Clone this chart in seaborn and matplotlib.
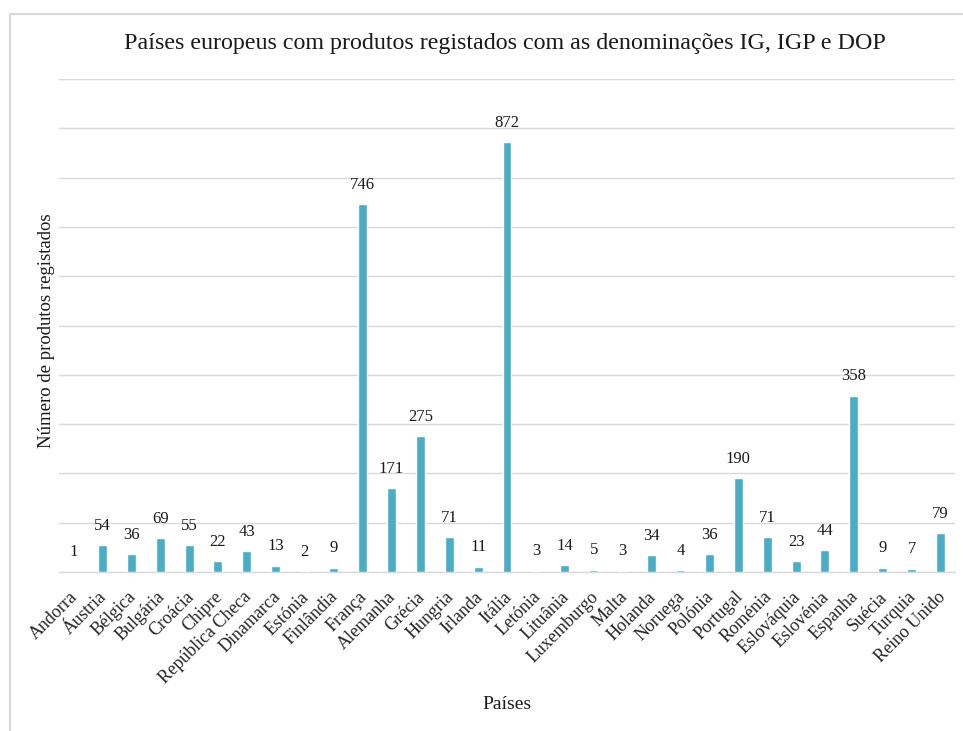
import matplotlib
matplotlib.use("Agg")
import matplotlib.pyplot as plt
import matplotlib.transforms as mtransforms
import seaborn as sns
import pandas as pd
from matplotlib.patches import Rectangle

countries = ["Andorra", "Áustria", "Bélgica", "Bulgária", "Croácia", "Chipre",
             "República Checa", "Dinamarca", "Estónia", "Finlândia", "França",
             "Alemanha", "Grécia", "Hungria", "Irlanda", "Itália", "Letónia",
             "Lituânia", "Luxemburgo", "Malta", "Holanda", "Noruega", "Polónia",
             "Portugal", "Roménia", "Eslováquia", "Eslovénia", "Espanha", "Suécia",
             "Turquia", "Reino Unido"]
values = [1, 54, 36, 69, 55, 22, 43, 13, 2, 9, 746, 171, 275, 71, 11, 872, 3,
          14, 5, 3, 34, 4, 36, 190, 71, 23, 44, 358, 9, 7, 79]

df = pd.DataFrame({"País": countries, "Produtos": values})

sns.set_theme(style="white")
plt.rcParams["font.family"] = ["Liberation Serif", "DejaVu Serif"]

fig = plt.figure(figsize=(9.63, 7.31), dpi=100)
ax = fig.add_axes([59/963, 1-572/731, (955-59)/963, (572-79)/731])

fig.patches.append(Rectangle((10/963, -0.1), 1.2, 1-14/731+0.1,
                             transform=fig.transFigure, fill=False,
                             edgecolor="#d9d9d9", linewidth=1.5, zorder=-1))

sns.barplot(data=df, x="País", y="Produtos", color="#4BACC6", width=0.31,
            saturation=1, ax=ax, zorder=3)

ax.set_ylim(0, 1000)
ax.set_xlim(-0.5, len(countries) - 0.5)
ax.set_yticks(range(0, 1001, 100))
ax.set_yticklabels([])
ax.tick_params(axis="y", length=0)
ax.tick_params(axis="x", length=0, pad=6)
ax.yaxis.grid(True, color="#d9d9d9", linewidth=1.0)
ax.set_axisbelow(True)
for s in ["top", "right", "left"]:
    ax.spines[s].set_visible(False)
ax.spines["bottom"].set_color("#d9d9d9")
ax.spines["bottom"].set_linewidth(1.0)

ax.set_xticks(range(len(countries)))
ax.set_xticklabels(countries, rotation=45, ha="right", rotation_mode="anchor",
                   fontsize=13, color="#262626")
offset = mtransforms.ScaledTranslation(-4/100, -8/100, fig.dpi_scale_trans)
for lbl in ax.get_xticklabels():
    lbl.set_transform(lbl.get_transform() + offset)

for i, v in enumerate(values):
    ax.annotate(str(v), (i, v), xytext=(0, 8), textcoords="offset points",
                ha="center", va="bottom", fontsize=12, color="#1a1a1a")

ax.set_xlabel("Países", fontsize=14, color="#1a1a1a")
ax.xaxis.set_label_coords(0.5, -0.252)
ax.set_ylabel("Número de produtos registados", fontsize=13.5, color="#1a1a1a")
ax.yaxis.set_label_coords(-0.004, 0.49)

fig.text(505/963, 1-43/731, "Países europeus com produtos registados com as denominações IG, IGP e DOP",
         ha="center", va="center", fontsize=17.3, color="#1a1a1a")

fig.savefig("out.png", dpi=100)
